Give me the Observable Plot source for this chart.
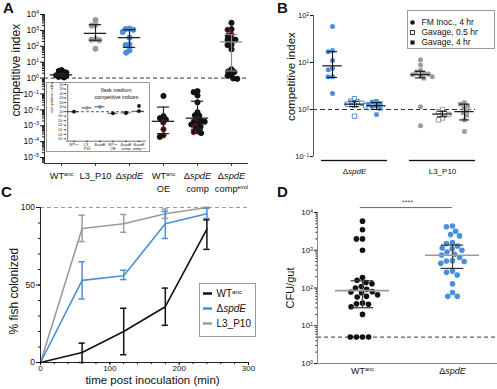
<!DOCTYPE html>
<html><head><meta charset="utf-8">
<script src="https://cdn.jsdelivr.net/npm/d3@7"></script>
<script src="https://cdn.jsdelivr.net/npm/@observablehq/plot@0.6"></script>
<style>
body{margin:0;background:#fff;}
#fig{position:relative;width:497px;height:389px;overflow:hidden;background:#fff;font-family:"Liberation Sans",Arial,Helvetica,sans-serif;color:#111;}
.panel{position:absolute;}
.panel svg{display:block;}
.letter{position:absolute;font-weight:bold;font-size:15px;line-height:15px;}
</style></head><body><div id="fig"></div>
<script>
const FONT = '"Liberation Sans", Arial, Helvetica, sans-serif';
const BLUE = "#4a8fdb", GRAY = "#9b9b9b", BLACK = "#111111", RED = "#a3201f";

// ---------- Panel A ----------
const aKeys = ["WTanc", "L3_P10", "spdE", "WTancOE", "comp", "compEvol"];
const aLabels = ["WT^anc^", "L3_P10", "Δ~spdE~", "WT^anc^\nOE", "Δ~spdE~\ncomp", "Δ~spdE~\ncomp^evol^"];
const aColors = [BLACK, GRAY, BLUE, BLACK, BLACK, BLACK];
const aBarColors = ["#222", "#222", "#222", "#222", "#222", "#8a8a8a"];
const aWTanc = [3.2, 2.8, 2.5, 2.2, 2.0, 1.8, 1.65, 1.5, 1.4, 1.3, 1.2, 1.1];
const aL3P10 = [4500, 2300, 2000, 280, 260, 240, 70];
const aSpdE = [1300, 1200, 1100, 800, 350, 130, 120, 55, 40];
const aWTancOE = [0.075, 0.004, 0.003, 0.0025, 0.0016, 0.0006, 0.00025, 0.0002];
const aComp = [0.15, 0.13, 0.08, 0.03, 0.007, 0.0045, 0.0042, 0.0026, 0.002, 0.0019, 0.0018, 0.0013, 0.0012, 0.0009, 0.0008, 0.00045, 0.0004, 0.00035];
const aCompEvol = [3000, 1200, 1100, 550, 450, 280, 260, 250, 130, 120, 65, 3.6, 2.6, 2.4, 1.6, 1.4, 0.95, 0.9];
const aRedOE = [0.0016, 0.0006, 0.00025];
const aRedComp = [0.0026, 0.0019, 0.0008, 0.0004];
const aRedEvol = [1100, 550];
const aMedian = [1.6, 650, 350, 0.0019, 0.003, 190];
const aUpper = [1.9, 2300, 1100, 0.015, 0.035, 550];
const aLower = [1.35, 240, 85, 0.00032, 0.0006, 2.8];
const aTickExps = [-5, -4, -3, -2, -1, 0, 1, 2, 3, 4];
const aTitle = "competitive index";

// inset (flask medium)
const inLabels = ["WT^anc^", "L3_\nP10", "Δ~spdE~", "WT^anc^\nOE", "Δ~spdE~\ncomp", "Δ~spdE~\ncomp^evol^"];
const inValues = [[1.0], [7], [12], [0.45], [0.5, 0.6], [1.4, 18]];
const inMedian = [1.0, 7, 12, 0.45, 0.55, 1.3];
const inTickExps = [-6, -5, -4, -3, -2, -1, 0, 1, 2, 3, 4, 5, 6];
const inTitle = "flask medium\ncompetitive indices";

// ---------- Panel B ----------
const bKeys = ["spdE_FM", "spdE_G05", "spdE_G4", "gap", "L3_FM", "L3_G05", "L3_G4"];
const bGroupKeys = ["spdE_G05", "L3_G05"];
const bGroupLabels = ["Δ~spdE~", "L3_P10"];
const bDataKeys = ["spdE_FM", "spdE_G05", "spdE_G4", "L3_FM", "L3_G05", "L3_G4"];
const bShapes = ["circle", "open", "square", "circle", "open", "square"];
const bColors = [BLUE, BLUE, BLUE, GRAY, GRAY, GRAY];
const bSpdEFM = [58, 18, 17, 11, 7.5, 7, 5, 5, 2.2];
const bSpdEG05 = [1.7, 1.5, 1.45, 1.35, 1.3, 1.25, 1.2, 0.72];
const bSpdEG4 = [1.5, 1.45, 1.35, 1.3, 1.2, 1.15, 1.05, 0.78];
const bL3FM = [11.5, 8.8, 6.8, 6.3, 6, 5.7, 5.5, 5.3, 5, 4.6, 1.15, 0.45];
const bL3G05 = [1.0, 0.9, 0.82, 0.78, 0.66, 0.6];
const bL3G4 = [1.4, 1.3, 1.2, 1.1, 0.95, 0.85, 0.75, 0.6, 0.34];
const bMedian = [8.5, 1.3, 1.2, 5.5, 0.8, 0.9];
const bUpper = [17, 1.5, 1.4, 6.5, 0.92, 1.3];
const bLower = [4.8, 1.15, 1.0, 4.7, 0.7, 0.6];
const bTickExps = [-1, 0, 1, 2];
const bLegendLabels = ["FM Inoc., 4 hr", "Gavage, 0.5 hr", "Gavage, 4 hr"];
const bLegendShapes = ["circle", "open", "square"];
const bTitle = "competitive index";

// ---------- Panel C ----------
const cTimes = [0, 60, 120, 180, 240];
const cNames = ["WT^anc^", "Δ~spdE~", "L3_P10"];
const cColors = [BLACK, BLUE, GRAY];
const cWT = [0, 6.5, 20, 36, 86];
const cWTlo = [0, 0, 5, 24, 73];
const cWThi = [0, 12.5, 35, 48, 92];
const cSpdE = [0, 53, 56, 89.5, 96];
const cSpdElo = [0, 41, 53.5, 80, 93];
const cSpdEhi = [0, 65, 59.5, 97.5, 99.5];
const cL3 = [0, 86.5, 89.5, 96, 100];
const cL3lo = [0, 78, 84, 93, 100];
const cL3hi = [0, 95, 95.5, 99, 100];
const cXTicks = [0, 100, 200, 300];
const cYTicks = [0, 50, 100];
const cXTitle = "time post inoculation (min)";
const cYTitle = "% fish colonized";

// ---------- Panel D ----------
const dKeys = ["WTanc", "spdE"];
const dLabels = ["WT^anc^", "Δ~spdE~"];
const dColors = [BLACK, BLUE];
const dWTanc = [5900, 3500, 2000, 2000, 1000, 190, 160, 140, 130, 110, 100, 92, 80, 78, 75, 66, 60, 58, 40, 38, 37, 32, 20, 5, 5, 5, 5];
const dSpdE = [4400, 4200, 3200, 2600, 2400, 1600, 1500, 1300, 1150, 1100, 1000, 900, 780, 750, 640, 530, 520, 500, 450, 280, 260, 220, 130, 76, 60, 60];
const dMedian = [85, 740];
const dUpper = [155, 1370];
const dLower = [30, 330];
const dLimit = 5;
const dSignif = "****";
const dSignifLevel = 13500;
const dTickExps = [0, 1, 2, 3, 4];
const dTitle = "CFU/gut";

// ---------- helpers ----------
const baseStyle = {fontFamily: FONT, fontSize: "9px", color: "#111", background: "transparent", overflow: "visible"};
function powLabel(d) {
  const e = Math.round(Math.log10(d));
  return "10^" + String(e).replace("-", "\u2212") + "^";
}
function minorTicks(e0, e1, lo, hi) {
  const out = [];
  for (let e = e0; e < e1; e++) for (let m = 2; m <= 9; m++) { const v = m * 10 ** e; if (v >= lo && v <= hi) out.push(v); }
  return out;
}
function rich(svg) {
  const NS = "http://www.w3.org/2000/svg";
  const nodes = Array.from(svg.querySelectorAll("text, tspan")).filter(n => n.children.length === 0 && /[\^~]/.test(n.textContent));
  for (const n of nodes) {
    const s = n.textContent;
    n.textContent = "";
    for (const p of s.split(/(\^[^^]*\^|~[^~]*~)/)) {
      if (!p) continue;
      const t = document.createElementNS(NS, "tspan");
      if (p.length > 1 && p[0] === "^" && p[p.length - 1] === "^") {
        t.textContent = p.slice(1, -1);
        t.style.fontSize = "62%";
        t.setAttribute("baseline-shift", "super");
      } else if (p.length > 1 && p[0] === "~" && p[p.length - 1] === "~") {
        t.textContent = p.slice(1, -1);
        t.setAttribute("font-style", "italic");
      } else t.textContent = p;
      n.appendChild(t);
    }
  }
  return svg;
}
const fig = document.getElementById("fig");
function place(node, left, top, extra) {
  const d = document.createElement("div");
  d.className = "panel";
  d.style.left = left + "px"; d.style.top = top + "px";
  if (extra) Object.assign(d.style, extra);
  d.appendChild(rich(node));
  fig.appendChild(d);
}
function letter(t, left, top) {
  const d = document.createElement("div");
  d.className = "letter"; d.textContent = t;
  d.style.left = left + "px"; d.style.top = top + "px";
  fig.appendChild(d);
}
const first = keys => keys.slice(0, 1);

// ---------- Build Panel A ----------
{
  const W = 250, H = 195, ML = 42, MR = 0;
  const yMin = 10 ** -5.375;
  const series = [aWTanc, aL3P10, aSpdE, aWTancOE, aComp, aCompEvol];
  const reds = [[], [], [], aRedOE, aRedComp, aRedEvol];
  const pts = aKeys.flatMap((g, i) => series[i].map(v => ({g, v, fc: aColors[i], sc: reds[i].includes(v) ? RED : aColors[i]})));
  const stats = aKeys.map((g, i) => ({g, med: aMedian[i], hi: aUpper[i], lo: aLower[i], bc: aBarColors[i]}));
  const ticks = aTickExps.map(e => 10 ** e);
  const dotOpts = {fx: "g", y: "v", r: 2.6, fill: "fc", stroke: "sc", strokeWidth: 1};
  const plot = Plot.plot({
    width: W, height: H, marginLeft: ML, marginRight: MR, marginTop: 14, marginBottom: 32,
    style: baseStyle,
    color: {type: "identity"},
    x: {domain: [-1, 1], axis: null},
    y: {type: "log", domain: [yMin, 1e4]},
    fx: {domain: aKeys, padding: 0, axis: null},
    marks: [
      Plot.ruleY(aKeys, {fx: d => d, y: () => 1, stroke: "#333", strokeDasharray: "4,3"}),
      Plot.dot(pts.filter(p => p.g === aKeys[0]), Plot.dodgeX({anchor: "middle", padding: -2.4}, dotOpts)),
      Plot.dot(pts.filter(p => p.g !== aKeys[0]), Plot.dodgeX({anchor: "middle", padding: -1.2}, dotOpts)),
      Plot.ruleX(stats, {fx: "g", x: () => 0, y1: "lo", y2: "hi", stroke: "bc", strokeWidth: 1.2}),
      Plot.ruleY(stats, {fx: "g", x1: () => -0.66, x2: () => 0.66, y: "med", stroke: "bc", strokeWidth: 1.3}),
      Plot.ruleY(stats, {fx: "g", x1: () => -0.36, x2: () => 0.36, y: "hi", stroke: "bc", strokeWidth: 1.2}),
      Plot.ruleY(stats, {fx: "g", x1: () => -0.36, x2: () => 0.36, y: "lo", stroke: "bc", strokeWidth: 1.2}),
      Plot.ruleY(aKeys, {fx: d => d, y: () => yMin, stroke: "#333"}),
      Plot.ruleX(aKeys, {fx: d => d, x: () => 0, y1: () => yMin, y2: () => yMin / 10 ** 0.19, stroke: "#333"}),
      Plot.ruleX(first(aKeys), {fx: d => d, x: () => -1, y1: () => yMin, y2: () => 1e4, stroke: "#333"}),
      Plot.axisY(ticks, {tickSize: 4, tickPadding: 1.5, fontSize: 8.5, tickFormat: powLabel, label: null}),
      Plot.axisY(minorTicks(-6, 4, yMin, 1e4), {tickSize: 2, tickFormat: () => "", label: null}),
      Plot.text(aKeys, {fx: d => d, x: () => 0, y: () => yMin, text: d => aLabels[aKeys.indexOf(d)], dy: 6, lineAnchor: "top", lineHeight: 1.4, fontSize: 9.3}),
      Plot.text(first(aKeys), {fx: d => d, x: () => -1, y: () => 3.16, text: () => aTitle, rotate: -90, dx: -28, fontSize: 12})
    ]
  });
  place(plot, 0, 0);
}

// ---------- Inset ----------
{
  const W = 102, H = 68, ML = 19, MR = 3.4, PI = 0.5, PO = 0.22;
  const step = (W - ML - MR) / (aKeys.length - PI + 2 * PO);
  const off = step * (PO + (1 - PI) / 2);
  const yMin = 10 ** -6.5;
  const pts = aKeys.flatMap((g, i) => inValues[i].map(v => ({g, v, fc: aColors[i]})));
  const meds = aKeys.map((g, i) => ({g, med: inMedian[i]}));
  const plot = Plot.plot({
    width: W, height: H, marginLeft: ML, marginRight: MR, marginTop: 1, marginBottom: 10.3,
    style: {...baseStyle, fontSize: "4px", background: "white"},
    color: {type: "identity"},
    x: {domain: aKeys, paddingInner: PI, paddingOuter: PO},
    y: {type: "log", domain: [yMin, 1e6]},
    marks: [
      Plot.ruleY([1], {stroke: "#333", strokeDasharray: "3,2", strokeWidth: 0.8}),
      Plot.tickY(meds, {x: "g", y: "med", stroke: "#222", strokeWidth: 0.8, insetLeft: -1.5, insetRight: -1.5}),
      Plot.dot(pts, {x: "g", y: "v", r: 1.9, fill: "fc"}),
      Plot.ruleY([yMin], {stroke: "#333", strokeWidth: 0.7}),
      Plot.ruleX(first(aKeys), {x: d => d, dx: -off, stroke: "#333", strokeWidth: 0.7}),
      Plot.axisY(inTickExps.map(e => 10 ** e), {tickSize: 1.5, tickPadding: 0.5, fontSize: 3.6, tickFormat: powLabel, label: null}),
      Plot.axisX({tickSize: 1.5, tickPadding: 0.5, fontSize: 3.7, lineHeight: 1.15, tickFormat: k => inLabels[aKeys.indexOf(k)], label: null}),
      Plot.text([inTitle], {frameAnchor: "top", dx: 10, dy: 2, fontSize: 5.2, lineHeight: 1.4, lineAnchor: "top"}),
      Plot.text([aTitle], {frameAnchor: "left", rotate: -90, dx: -15, fontSize: 4})
    ]
  });
  place(plot, 46, 82, {border: "1px solid #9a9a9a", background: "white"});
}

// ---------- Panel B ----------
{
  const W = 247, H = 195, ML = 71, MR = 22, gapLeft = 8;
  const series = [bSpdEFM, bSpdEG05, bSpdEG4, bL3FM, bL3G05, bL3G4];
  const pts = bDataKeys.flatMap((g, i) => series[i].map(v => ({g, v, shape: bShapes[i], c: bColors[i]})));
  const stats = bDataKeys.map((g, i) => ({g, med: bMedian[i], hi: bUpper[i], lo: bLower[i]}));
  const ticks = bTickExps.map(e => 10 ** e);
  const dodge = (shape, opts) => Plot.dot(pts.filter(p => p.shape === shape), Plot.dodgeX({anchor: "middle", padding: -0.5}, {fx: "g", y: "v", r: 2.5, ...opts}));
  const plot = Plot.plot({
    width: W, height: H, marginLeft: ML, marginRight: MR, marginTop: 15, marginBottom: 39,
    style: baseStyle,
    color: {type: "identity"},
    x: {domain: [-1, 1], axis: null},
    y: {type: "log", domain: [0.1, 100]},
    fx: {domain: bKeys, padding: 0, axis: null},
    marks: [
      Plot.ruleY(bKeys, {fx: d => d, y: () => 1, stroke: "#333", strokeDasharray: "4,3"}),
      Plot.ruleY(first(bKeys), {fx: d => d, y: () => 1, x1: () => -1, x2: () => -1, insetLeft: -gapLeft, stroke: "#333", strokeDasharray: "4,3"}),
      dodge("circle", {symbol: "circle", fill: "c"}),
      dodge("open", {symbol: "square", fill: "white", stroke: "c", strokeWidth: 1}),
      dodge("square", {symbol: "square", fill: "c"}),
      Plot.ruleX(stats, {fx: "g", x: () => 0, y1: "lo", y2: "hi", stroke: "#111", strokeWidth: 1.1}),
      Plot.ruleY(stats, {fx: "g", x1: () => -0.88, x2: () => 0.88, y: "med", stroke: "#111", strokeWidth: 1.2}),
      Plot.ruleY(stats, {fx: "g", x1: () => -0.45, x2: () => 0.45, y: "hi", stroke: "#111", strokeWidth: 1.1}),
      Plot.ruleY(stats, {fx: "g", x1: () => -0.45, x2: () => 0.45, y: "lo", stroke: "#111", strokeWidth: 1.1}),
      Plot.ruleY(bDataKeys, {fx: d => d, y: () => 0.1, dy: 4, stroke: "#111", strokeWidth: 1.3}),
      Plot.ruleX(first(bKeys), {fx: d => d, x: () => -1, dx: -gapLeft, y1: () => 0.1, y2: () => 100, stroke: "#555"}),
      Plot.axisY(ticks, {tickSize: 3, tickPadding: 1.5, fontSize: 7.5, tickFormat: powLabel, label: null, dx: -gapLeft}),
      Plot.text(bGroupKeys, {fx: d => d, x: () => 0, y: () => 0.1, text: d => bGroupLabels[bGroupKeys.indexOf(d)], dy: 12, lineAnchor: "top", fontSize: 8}),
      Plot.text(first(bKeys), {fx: d => d, x: () => -1, y: () => 5, text: () => bTitle, rotate: -90, dx: -30, fontSize: 11.5})
    ]
  });
  place(plot, 250, 0);
}

// ---------- Panel C ----------
{
  const W = 250, H = 194;
  const ys = [cWT, cSpdE, cL3], los = [cWTlo, cSpdElo, cL3lo], his = [cWThi, cSpdEhi, cL3hi];
  const lines = [2, 1, 0].flatMap(s => cTimes.map((t, j) => ({s, t, v: ys[s][j], c: cColors[s]})));
  const errs = [2, 1, 0].flatMap(s => cTimes.map((t, j) => ({s, t, lo: los[s][j], hi: his[s][j], c: cColors[s]}))).filter(d => d.t > 0);
  const cap = 4.5;
  const plot = Plot.plot({
    width: W, height: H, marginLeft: 40, marginRight: 2, marginTop: 12, marginBottom: 27,
    style: baseStyle,
    color: {type: "identity"},
    x: {domain: [0, 300]},
    y: {domain: [0, 100]},
    marks: [
      Plot.ruleY([100], {stroke: "#999", strokeDasharray: "4,3"}),
      Plot.line(lines, {x: "t", y: "v", z: "s", stroke: "c", strokeWidth: 1.6}),
      Plot.ruleX(errs, {x: "t", y1: "lo", y2: "hi", stroke: "c", strokeWidth: 1.5}),
      Plot.ruleY(errs, {x1: d => d.t - cap, x2: d => d.t + cap, y: "lo", stroke: "c", strokeWidth: 1.5}),
      Plot.ruleY(errs, {x1: d => d.t - cap, x2: d => d.t + cap, y: "hi", stroke: "c", strokeWidth: 1.5}),
      Plot.ruleX([0], {stroke: "#222"}),
      Plot.ruleY([0], {stroke: "#222"}),
      Plot.axisX(cXTicks, {tickSize: 3, tickPadding: 0, fontSize: 8, label: null}),
      Plot.axisX(d3.range(0, 301, 20), {tickSize: 2, tickFormat: () => "", label: null}),
      Plot.axisY(cYTicks, {tickSize: 4, tickPadding: 1.5, fontSize: 8.5, label: null}),
      Plot.axisY(d3.range(0, 101, 10), {tickSize: 2, tickFormat: () => "", label: null}),
      Plot.text([cXTitle], {frameAnchor: "bottom", dx: 8, dy: 21, fontSize: 11.5}),
      Plot.text([cYTitle], {x: () => 0, y: () => 46, rotate: -90, dx: -26, fontSize: 12})
    ]
  });
  place(plot, 0, 195);
}

// ---------- Panel D ----------
{
  const W = 247, H = 194, ML = 67, MR = 0;
  const series = [dWTanc, dSpdE];
  const pts = dKeys.flatMap((g, i) => series[i].map(v => ({g, v, fc: dColors[i]})));
  const stats = dKeys.map((g, i) => ({g, med: dMedian[i], hi: dUpper[i], lo: dLower[i]}));
  const ticks = dTickExps.map(e => 10 ** e);
  const plot = Plot.plot({
    width: W, height: H, marginLeft: ML, marginRight: MR, marginTop: 17, marginBottom: 26,
    style: baseStyle,
    color: {type: "identity"},
    x: {domain: [-1, 1], axis: null},
    y: {type: "log", domain: [1, 1e4]},
    fx: {domain: dKeys, padding: 0, axis: null},
    marks: [
      Plot.ruleY(dKeys, {fx: d => d, y: () => dLimit, stroke: "#333", strokeDasharray: "4,3"}),
      Plot.dot(pts, Plot.dodgeX({anchor: "middle", padding: 0.5}, {fx: "g", y: "v", r: 2.8, fill: "fc"})),
      Plot.ruleX(stats, {fx: "g", x: () => 0, y1: "lo", y2: "hi", stroke: "#444", strokeWidth: 1.2}),
      Plot.ruleY(stats, {fx: "g", x1: () => -0.6, x2: () => 0.6, y: "med", stroke: "#9a9a9a", strokeWidth: 1.6}),
      Plot.ruleY(stats, {fx: "g", x1: () => -0.25, x2: () => 0.25, y: "hi", stroke: "#333", strokeWidth: 1.2}),
      Plot.ruleY(stats, {fx: "g", x1: () => -0.25, x2: () => 0.25, y: "lo", stroke: "#333", strokeWidth: 1.2}),
      Plot.ruleY(dKeys.slice(0, 1), {fx: d => d, x1: () => -0.05, x2: () => 1, y: () => dSignifLevel, stroke: "#666"}),
      Plot.ruleY(dKeys.slice(1, 2), {fx: d => d, x1: () => -1, x2: () => 0, y: () => dSignifLevel, stroke: "#666"}),
      Plot.text(dKeys.slice(0, 1), {fx: d => d, x: () => 1, y: () => dSignifLevel, text: () => dSignif, dy: -5, fontSize: 7, fill: "#555"}),
      Plot.ruleY(dKeys, {fx: d => d, y: () => 1, stroke: "#888"}),
      Plot.ruleX(first(dKeys), {fx: d => d, x: () => -1, y1: () => 1, y2: () => 1e4, stroke: "#888"}),
      Plot.axisY(ticks, {tickSize: 3, tickPadding: 1.5, fontSize: 8, tickFormat: powLabel, label: null}),
      Plot.axisY(minorTicks(0, 4, 1, 1e4), {tickSize: 1.5, tickFormat: () => "", label: null}),
      Plot.text(dKeys, {fx: d => d, x: () => 0, y: () => 1, text: d => dLabels[dKeys.indexOf(d)], dy: 4, lineAnchor: "top", fontSize: 9}),
      Plot.text(first(dKeys), {fx: d => d, x: () => -1, y: () => 100, text: () => dTitle, rotate: -90, dx: -27, fontSize: 11})
    ]
  });
  place(plot, 250, 195);
}

// ---------- Legend C ----------
{
  const items = cNames.map((n, i) => ({n, c: cColors[i]}));
  const plot = Plot.plot({
    width: 55, height: 52, marginLeft: 0, marginRight: 0, marginTop: 0.5, marginBottom: 5,
    style: {...baseStyle, background: "white"},
    color: {type: "identity"},
    y: {type: "point", domain: cNames, padding: 0.5, axis: null},
    marks: [
      Plot.tickY(items, {y: "n", stroke: "c", strokeWidth: 2.5, insetLeft: 3, insetRight: 43}),
      Plot.text(items, {y: "n", text: "n", frameAnchor: "left", dx: 16, textAnchor: "start", fontSize: 10})
    ]
  });
  place(plot, 199, 283, {border: "1px solid #9a9a9a", background: "white"});
}

// ---------- Legend B ----------
{
  const items = bLegendLabels.map((n, i) => ({n, s: bLegendShapes[i]}));
  const plot = Plot.plot({
    width: 86, height: 37, marginLeft: 0, marginRight: 0, marginTop: 4.5, marginBottom: 0,
    style: {...baseStyle, background: "white"},
    y: {type: "point", domain: bLegendLabels, padding: 0.5, axis: null},
    marks: [
      Plot.dot(items.filter(d => d.s === "circle"), {y: "n", frameAnchor: "left", dx: 4, r: 2.3, fill: "#111", symbol: "circle"}),
      Plot.dot(items.filter(d => d.s === "open"), {y: "n", frameAnchor: "left", dx: 4, r: 2.3, fill: "white", stroke: "#111", strokeWidth: 0.9, symbol: "square"}),
      Plot.dot(items.filter(d => d.s === "square"), {y: "n", frameAnchor: "left", dx: 4, r: 2.3, fill: "#111", symbol: "square"}),
      Plot.text(items, {y: "n", text: "n", frameAnchor: "left", dx: 13, textAnchor: "start", fontSize: 8.5})
    ]
  });
  place(plot, 407, 10, {border: "1px solid #9a9a9a", background: "white"});
}

letter("A", 3, 0);
letter("B", 277, 0);
letter("C", 1, 184);
letter("D", 277, 184);
</script></body></html>
